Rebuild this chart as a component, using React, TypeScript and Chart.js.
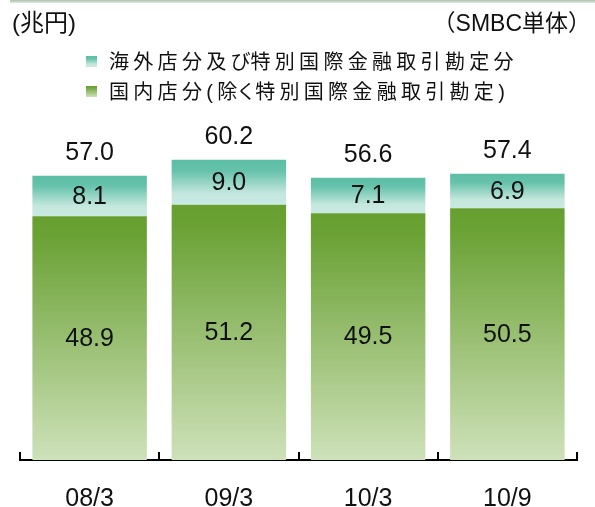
import React, { useEffect, useRef } from 'react';
import { Chart, registerables } from 'chart.js';

Chart.register(...registerables);

// ---- data ----
const categories = ['08/3', '09/3', '10/3', '10/9'];
const domesticValues = [48.9, 51.2, 49.5, 50.5];
const overseasValues = [8.1, 9.0, 7.1, 6.9];
const totalValues = [57.0, 60.2, 56.6, 57.4];
const overseasNameParts = ['海外店分及', 'び', '特別国際金融取引勘定分'];
const domesticNameParts = ['国内店分(', '除く', '特別国際金融取引勘定)'];
const overseasName = overseasNameParts.join('');
const domesticName = domesticNameParts.join('');
const unitLabel = '(兆円)';
const scopeLabel = '（SMBC単体）';
const yMax = 70;

const NUM_FONT = '"Liberation Sans", Arial, sans-serif';
const JP_FONT = '"Liberation Sans", "Noto Sans CJK JP", sans-serif';

const greenStops: [number, string][] = [
  [0, '#669f2f'],
  [0.08, '#6aa134'],
  [1, '#cee1b9'],
];
const tealStops: [number, string][] = [
  [0, '#5bbea5'],
  [0.25, '#66c2ab'],
  [0.75, '#c4e7dd'],
  [1, '#c9e9e1'],
];

function makeGradientFill(stackBelow: number[] | null, values: number[], stops: [number, string][], fallback: string) {
  return (ctx: any) => {
    const chart = ctx.chart;
    const yScale = chart && chart.scales && chart.scales.y;
    if (ctx.type !== 'data' || !yScale || !chart.chartArea) return fallback;
    const i = ctx.dataIndex;
    const base = stackBelow ? stackBelow[i] : 0;
    const top = yScale.getPixelForValue(base + values[i]);
    const bottom = yScale.getPixelForValue(base);
    if (!isFinite(top) || !isFinite(bottom) || top === bottom) return fallback;
    const g = chart.ctx.createLinearGradient(0, top, 0, bottom);
    stops.forEach(([o, c]) => g.addColorStop(o, c));
    return g;
  };
}

const labelPlugin = {
  id: 'valueLabels',
  afterDatasetsDraw(chart: any) {
    const { ctx, chartArea } = chart;
    ctx.save();
    ctx.font = `25px ${NUM_FONT}`;
    ctx.fillStyle = '#111';
    ctx.textAlign = 'center';
    ctx.textBaseline = 'middle';
    chart.data.datasets.forEach((ds: any, di: number) => {
      const meta = chart.getDatasetMeta(di);
      meta.data.forEach((bar: any, i: number) => {
        const v = ds.data[i];
        ctx.fillText(Number(v).toFixed(1), bar.x, (bar.y + bar.base) / 2 + 1);
      });
    });
    const topMeta = chart.getDatasetMeta(chart.data.datasets.length - 1);
    topMeta.data.forEach((bar: any, i: number) => {
      ctx.fillText(totalValues[i].toFixed(1), bar.x, bar.y - 23);
    });
    // category boundary ticks pointing upward
    const xs = chart.scales.x;
    const yBase = chartArea.bottom;
    ctx.strokeStyle = '#000';
    ctx.lineWidth = 2;
    for (let i = 0; i <= categories.length; i++) {
      const px = Math.round(xs.getPixelForValue(i - 0.5));
      ctx.beginPath();
      ctx.moveTo(px, yBase);
      ctx.lineTo(px, yBase - 8);
      ctx.stroke();
    }
    ctx.restore();
  },
};

function Swatch({ stops }: { stops: [number, string][] }) {
  const grad = `linear-gradient(to bottom, ${stops.map(([o, c]) => `${c} ${o * 100}%`).join(', ')})`;
  return (
    <span
      style={{
        position: 'absolute',
        left: 0,
        top: 0,
        width: 11,
        height: 11,
        background: grad,
      }}
    />
  );
}

export default function App() {
  const canvasRef = useRef<HTMLCanvasElement | null>(null);

  useEffect(() => {
    if (!canvasRef.current) return;
    const chart = new Chart(canvasRef.current, {
      type: 'bar',
      data: {
        labels: categories,
        datasets: [
          {
            label: domesticName,
            data: domesticValues,
            backgroundColor: makeGradientFill(null, domesticValues, greenStops, '#8fba64'),
            borderWidth: 0,
            categoryPercentage: 1,
            barPercentage: 0.822,
          },
          {
            label: overseasName,
            data: overseasValues,
            backgroundColor: makeGradientFill(domesticValues, overseasValues, tealStops, '#8fd1c0'),
            borderWidth: 0,
            categoryPercentage: 1,
            barPercentage: 0.822,
          },
        ],
      },
      options: {
        responsive: false,
        animation: false,
        events: [],
        layout: { padding: { top: 111, left: 20, right: 18, bottom: -32 } },
        plugins: {
          legend: { display: false },
          tooltip: { enabled: false },
          title: { display: false },
        },
        scales: {
          x: {
            stacked: true,
            offset: true,
            grid: { display: false, drawTicks: false },
            border: { display: true, color: '#000', width: 2 },
            ticks: {
              color: '#111',
              padding: 27,
              font: { family: NUM_FONT, size: 25, lineHeight: 1 },
            },
          },
          y: {
            stacked: true,
            display: false,
            min: 0,
            max: yMax,
          },
        },
      },
      plugins: [labelPlugin],
    });
    return () => chart.destroy();
  }, []);

  const legendRow: React.CSSProperties = {
    position: 'absolute',
    left: 86,
    paddingLeft: 23,
    fontFamily: JP_FONT,
    fontSize: 20,
    letterSpacing: '4.3px',
    lineHeight: '24px',
    color: '#111',
    whiteSpace: 'nowrap',
  };

  const headerText: React.CSSProperties = {
    position: 'absolute',
    top: 9,
    fontFamily: JP_FONT,
    lineHeight: '28px',
    color: '#111',
    whiteSpace: 'nowrap',
  };

  return (
    <div style={{ position: 'absolute', left: 0, top: 0, width: 595, height: 507, overflow: 'hidden', background: '#fff' }}>
      <div
        style={{
          position: 'absolute',
          left: 10,
          top: 0,
          width: 585,
          height: 3,
          background: 'linear-gradient(to bottom, #a9c2a9, #e2ebe2)',
        }}
      />
      <canvas ref={canvasRef} width={595} height={507} style={{ position: 'absolute', left: 0, top: 0 }} />
      <div style={{ ...headerText, left: 12, fontSize: 24 }}>{unitLabel}</div>
      <div style={{ ...headerText, right: 4, fontSize: 23 }}>{scopeLabel}</div>
      <div style={{ ...legendRow, top: 50 }}>
        <span style={{ position: 'absolute', left: 0, top: 6 }}>
          <Swatch stops={tealStops} />
        </span>
        {overseasNameParts[0]}
        <span style={{ letterSpacing: '0px' }}>{overseasNameParts[1]}</span>
        {overseasNameParts[2]}
      </div>
      <div style={{ ...legendRow, top: 80 }}>
        <span style={{ position: 'absolute', left: 0, top: 6 }}>
          <Swatch stops={greenStops} />
        </span>
        {domesticNameParts[0]}
        <span style={{ letterSpacing: '-1px' }}>{domesticNameParts[1]}</span>
        {domesticNameParts[2]}
      </div>
    </div>
  );
}
